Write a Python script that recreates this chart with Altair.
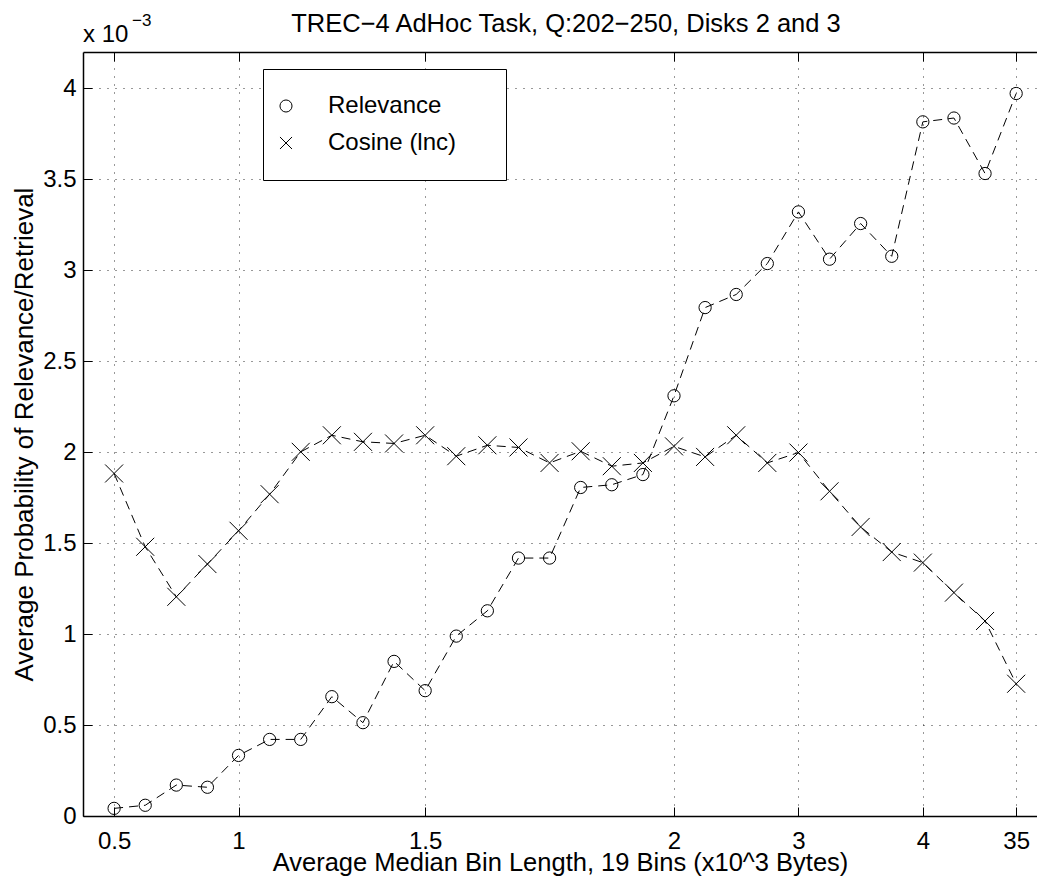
import altair as alt
import pandas as pd

# ---------------- data ----------------
bin_index = list(range(30))
relevance = [0.042, 0.059, 0.170, 0.158, 0.333, 0.421, 0.421, 0.656, 0.513, 0.850,
             0.689, 0.989, 1.128, 1.418, 1.418, 1.806, 1.821, 1.877, 2.310, 2.795,
             2.867, 3.037, 3.321, 3.061, 3.257, 3.077, 3.816, 3.837, 3.532, 3.972]
cosine = [1.883, 1.480, 1.205, 1.385, 1.568, 1.769, 2.002, 2.093, 2.057, 2.048,
          2.093, 1.978, 2.038, 2.026, 1.941, 2.005, 1.923, 1.941, 2.032, 1.974,
          2.093, 1.941, 1.998, 1.785, 1.589, 1.451, 1.393, 1.228, 1.072, 0.727]
series_names = ["Relevance", "Cosine (lnc)"]
x_tick_index = [0, 4, 10, 18, 22, 26, 29]
x_tick_labels = ["0.5", "1", "1.5", "2", "3", "4", "35"]
y_ticks = [0, 0.5, 1, 1.5, 2, 2.5, 3, 3.5, 4]
title_text = ["TREC\u22124 AdHoc Task, Q:202\u2212250, Disks 2 and 3"]
x_title = "Average Median Bin Length, 19 Bins (x10^3 Bytes)"
y_title = "Average Probability of Relevance/Retrieval"
exponent_base = ["x 10"]
exponent_power = ["\u22123"]

rows = []
for name, vals in zip(series_names, [relevance, cosine]):
    for i, v in zip(bin_index, vals):
        rows.append({"idx": i, "value": v, "series": name})
df = pd.DataFrame(rows)
df_rel = df[df["series"] == series_names[0]]
df_cos = df[df["series"] == series_names[1]]

FONT = "Liberation Sans"
W, H = 954, 764
XPATH = "M-1,-1L1,1M1,-1L-1,1"

xscale = alt.Scale(domain=[-1, 29.67], nice=False, zero=False)
yscale = alt.Scale(domain=[0, 4.2], nice=False, zero=False)

expr = ""
for v, lab in zip(x_tick_index, x_tick_labels):
    expr += f"datum.value == {v} ? '{lab}' : "
expr += "''"

# main axes: labels, grid, domain
x_main = alt.Axis(orient="bottom", offset=0, values=x_tick_index, labelExpr=expr,
                  title=x_title, grid=True, gridDash=[1, 7], gridColor="black",
                  gridWidth=1, gridOpacity=0.8, ticks=False, domain=True,
                  domainColor="black", domainWidth=1.5, labelFont=FONT,
                  labelFontSize=24, labelColor="black", labelPadding=13,
                  titleFont=FONT, titleFontSize=25.5, titleFontWeight="normal",
                  titleColor="black", titlePadding=-3)
y_main = alt.Axis(orient="left", offset=0, values=y_ticks, format="~g",
                  title=y_title, grid=True, gridDash=[1, 7], gridColor="black",
                  gridWidth=1, gridOpacity=0.8, ticks=False, domain=True,
                  domainColor="black", domainWidth=1.5, labelFont=FONT,
                  labelFontSize=24, labelColor="black", labelPadding=7,
                  titleFont=FONT, titleFontSize=26, titleFontWeight="normal",
                  titleColor="black", titlePadding=5)

# inward tick axes
x_ticks_bottom = alt.Axis(orient="bottom", offset=-9, values=x_tick_index, ticks=True,
                          tickSize=9, tickColor="black", tickWidth=1, labels=False,
                          domain=False, grid=False, title=None)
y_ticks_left = alt.Axis(orient="left", offset=-9, values=y_ticks, ticks=True,
                        tickSize=9, tickColor="black", tickWidth=1, labels=False,
                        domain=False, grid=False, title=None)
x_top_domain = alt.Axis(orient="top", offset=0, values=x_tick_index, ticks=False,
                        labels=False, domain=True, domainColor="black",
                        domainWidth=1.5, grid=False, title=None)
x_top_ticks = alt.Axis(orient="top", offset=-9, values=x_tick_index, ticks=True,
                       tickSize=9, tickColor="black", tickWidth=1, labels=False,
                       domain=False, grid=False, title=None)

lines = alt.Chart(df).mark_line(strokeDash=[9, 6], strokeWidth=1, color="black").encode(
    x=alt.X("idx:Q", scale=xscale, axis=x_main),
    y=alt.Y("value:Q", scale=yscale, axis=y_main),
    detail="series:N",
)

legend = alt.Legend(orient="none", legendX=180, legendY=17, title=None,
                    padding=25, strokeColor="black", fillColor="white",
                    cornerRadius=0, labelFont=FONT, labelFontSize=24,
                    labelColor="black", labelOffset=30, rowPadding=13,
                    symbolOffset=-14, labelLimit=400,
                    symbolSize=145, symbolStrokeColor="black",
                    symbolFillColor="transparent", symbolStrokeWidth=1,
                    labelExpr="datum.label + '\u00a0\u2800'")

circles = alt.Chart(df_rel).mark_point(filled=False, strokeWidth=1, opacity=1, size=150).encode(
    x=alt.X("idx:Q", scale=xscale, axis=x_ticks_bottom),
    y=alt.Y("value:Q", scale=yscale, axis=y_ticks_left),
    shape=alt.Shape("series:N", scale=alt.Scale(domain=series_names, range=["circle", XPATH]),
                    legend=legend),
    color=alt.value("black"),
)

crosses = alt.Chart(df_cos).mark_point(filled=False, strokeWidth=1, opacity=1, size=324,
                                       shape=XPATH).encode(
    x=alt.X("idx:Q", scale=xscale, axis=x_top_domain),
    y=alt.Y("value:Q", scale=yscale, axis=None),
    color=alt.value("black"),
)

top_b = alt.Chart(df).mark_point(opacity=0).encode(
    x=alt.X("idx:Q", scale=xscale, axis=x_top_ticks),
    y=alt.Y("value:Q", scale=yscale, axis=None),
)

title_mark = alt.Chart(pd.DataFrame({"t": title_text})).mark_text(
    align="center", baseline="alphabetic", font=FONT, fontSize=25.5, color="black"
).encode(text="t:N", x=alt.value(483), y=alt.value(-20))
exp1 = alt.Chart(pd.DataFrame({"t": exponent_base})).mark_text(
    align="left", baseline="alphabetic", font=FONT, fontSize=24, color="black"
).encode(text="t:N", x=alt.value(0), y=alt.value(-10))
exp2 = alt.Chart(pd.DataFrame({"t": exponent_power})).mark_text(
    align="left", baseline="alphabetic", font=FONT, fontSize=17, color="black"
).encode(text="t:N", x=alt.value(49), y=alt.value(-26))

chart = alt.layer(lines, circles, crosses, top_b, title_mark, exp1, exp2).resolve_axis(
    x="independent", y="independent"
).properties(
    width=W, height=H,
    autosize=alt.AutoSizeParams(type="none"),
    padding={"left": 75, "top": 44, "right": 0, "bottom": 60},
    background="white",
).configure_view(stroke=None)

chart.save("out.html", embed_options={"renderer": "svg", "actions": False})
